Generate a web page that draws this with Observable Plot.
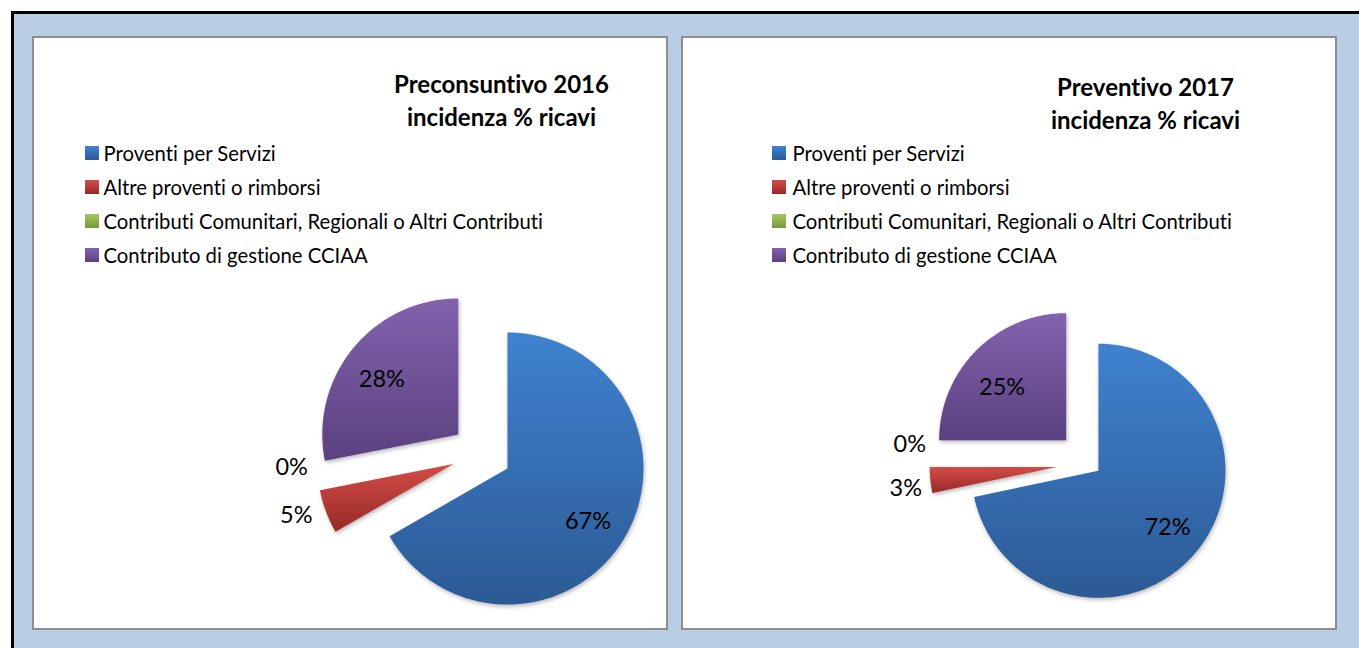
<!DOCTYPE html>
<html>
<head>
<meta charset="utf-8">
<script src="https://cdn.jsdelivr.net/npm/d3@7"></script>
<script src="https://cdn.jsdelivr.net/npm/@observablehq/plot@0.6"></script>
<style>
  html, body { margin: 0; padding: 0; background: #ffffff; width: 1359px; height: 648px; overflow: hidden; }
  #frame { position: absolute; left: 11px; top: 11px; width: 1345px; height: 634px;
           border-left: 3px solid #000; border-top: 3px solid #000; background: #b9cde5; }
  .panel { position: absolute; top: 36px; height: 590px; border: 2px solid #8e8e8e; background: #fff; }
  .panel svg { position: absolute; left: 0; top: 0; overflow: visible; font-variant-ligatures: none; }
  .panel svg text { font-variant-ligatures: none; font-feature-settings: "liga" 0; }
  .slice path { filter: drop-shadow(1px 2px 2px rgba(0,0,0,0.28)); }
</style>
</head>
<body>
<div id="frame"></div>
<div class="panel" id="p1" style="left:32px; width:632px;"></div>
<div class="panel" id="p2" style="left:681px; width:652px;"></div>
<script>
// ---------------- data ----------------
const categories = [
  "Proventi per Servizi",
  "Altre proventi o rimborsi",
  "Contributi Comunitari, Regionali o Altri Contributi",
  "Contributo di gestione CCIAA"
];
const values2016 = [66.7, 5.2, 0.0, 28.1];
const values2017 = [71.7, 3.3, 0.0, 25.0];
const title2016 = ["Preconsuntivo 2016", "incidenza % ricavi"];
const title2017 = ["Preventivo 2017", "incidenza % ricavi"];

// ---------------- styles ----------------
const gradients = [
  ["#3f82cf", "#2c5a95"],   // blue
  ["#d34c47", "#972a26"],   // red
  ["#a5c660", "#7c993d"],   // green
  ["#8262ae", "#5b417f"]    // purple
];
const FONT = "Lato, 'Open Sans', sans-serif";

// ---------------- layout (page pixel coordinates) ----------------
const panels = [
  { id: "p1", left: 34, top: 38, width: 632, height: 590,
    values: values2016, title: title2016,
    cx: 481, cy: 453, r: 136, explode: [30, 30, 30, 30],
    titleX: 501, titleBase: [92, 125],
    swatchX: 85, textX: 103, legendBase: 160, legendStep: 34,
    nudge: [[-3, 5], [-3, -6], [1, -24], [-5, 4]] },
  { id: "p2", left: 683, top: 38, width: 652, height: 590,
    values: values2017, title: title2017,
    cx: 1089, cy: 463, r: 127, explode: [11.5, 33, 33, 33],
    titleX: 1145, titleBase: [95, 128],
    swatchX: 772, textX: 792, legendBase: 160, legendStep: 34,
    nudge: [[-1, 0], [2, 6], [7, -19], [-3, 8]] }
];

function render(p) {
  const arcs = d3.pie().sort(null).value(d => d)(p.values);
  const ns = "http://www.w3.org/2000/svg";
  const defsMark = () => {
    const defs = document.createElementNS(ns, "defs");
    gradients.forEach((g, i) => {
      const lg = document.createElementNS(ns, "linearGradient");
      lg.setAttribute("id", `${p.id}-g${i}`);
      lg.setAttribute("x1", "0"); lg.setAttribute("y1", "0");
      lg.setAttribute("x2", "0"); lg.setAttribute("y2", "1");
      g.forEach((c, k) => {
        const s = document.createElementNS(ns, "stop");
        s.setAttribute("offset", k ? "1" : "0");
        s.setAttribute("stop-color", c);
        lg.appendChild(s);
      });
      defs.appendChild(lg);
    });
    return defs;
  };

  const sliceMarks = [];
  const labels = [];
  arcs.forEach((a, i) => {
    const mid = (a.startAngle + a.endAngle) / 2;
    const ax = p.cx + p.explode[i] * Math.sin(mid);
    const ay = p.cy - p.explode[i] * Math.cos(mid);
    if (a.endAngle - a.startAngle > 1e-6) {
      const n = Math.max(2, Math.ceil((a.endAngle - a.startAngle) * 180 / Math.PI));
      const pts = [{x: ax, y: ay}];
      for (let k = 0; k <= n; k++) {
        const t = a.startAngle + (a.endAngle - a.startAngle) * k / n;
        pts.push({x: ax + p.r * Math.sin(t), y: ay - p.r * Math.cos(t)});
      }
      pts.push({x: ax, y: ay});
      sliceMarks.push(Plot.line(pts, {x: "x", y: "y", fill: `url(#${p.id}-g${i})`,
        stroke: "none", curve: "linear", className: "slice"}));
    }
    const frac = (a.value / d3.sum(p.values)) > 0.15 ? (i === 0 ? 0.71 : 0.68) : 1.21;
    labels.push({
      x: ax + frac * p.r * Math.sin(mid) + p.nudge[i][0],
      y: ay - frac * p.r * Math.cos(mid) + p.nudge[i][1],
      text: `${Math.round(a.value)}%`
    });
  });

  const swatches = categories.map((c, i) => Plot.rect([c], {
    x1: () => p.swatchX, x2: () => p.swatchX + 14,
    y1: () => p.legendBase + i * p.legendStep - 14, y2: () => p.legendBase + i * p.legendStep,
    fill: `url(#${p.id}-g${i})`, inset: 0
  }));

  const chart = Plot.plot({
    width: p.width, height: p.height,
    margin: 0,
    x: {domain: [p.left, p.left + p.width], range: [0, p.width], axis: null},
    y: {domain: [p.top, p.top + p.height], range: [0, p.height], axis: null},
    style: {background: "transparent", overflow: "visible"},
    marks: [
      defsMark,
      ...sliceMarks,
      Plot.text(labels, {x: "x", y: "y", text: "text", fontSize: 23.5, fontFamily: FONT,
        fill: "#000", textAnchor: "middle"}),
      Plot.text(p.title, {x: () => p.titleX, y: (d, i) => p.titleBase[i], text: d => d,
        fontSize: 24, fontWeight: "bold", fontFamily: FONT, fill: "#000",
        textAnchor: "middle", lineAnchor: "bottom"}),
      ...swatches,
      Plot.text(categories, {x: () => p.textX, y: (d, i) => p.legendBase + i * p.legendStep,
        text: d => d, fontSize: 20.3, fontFamily: FONT, fill: "#000",
        textAnchor: "start", lineAnchor: "bottom"})
    ]
  });
  document.getElementById(p.id).appendChild(chart);
}
panels.forEach(render);
</script>
</body>
</html>
